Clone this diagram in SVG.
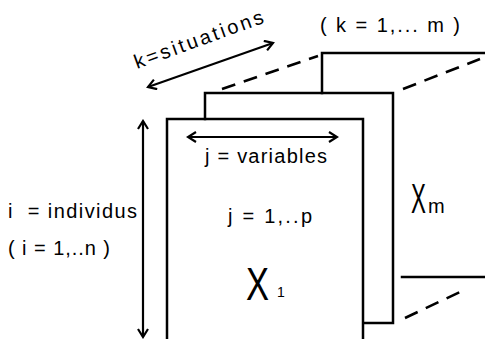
<svg xmlns="http://www.w3.org/2000/svg" width="485" height="339" viewBox="0 0 485 339">
<defs>
<style>
.ln{fill:none;stroke:#000;stroke-width:2.5;stroke-linecap:square}
.dash{fill:none;stroke:#000;stroke-width:2.6;stroke-dasharray:14 9}
.arr{fill:none;stroke:#000;stroke-width:2.2}
.t{font-family:"Liberation Sans",Arial,sans-serif;font-size:20px;fill:#000}
</style>
<marker id="ah" viewBox="0 0 12 12" refX="10" refY="6" markerWidth="12" markerHeight="12" markerUnits="userSpaceOnUse" orient="auto-start-reverse">
<path d="M2,1 L10,6 L2,11" fill="none" stroke="#000" stroke-width="2.2"/>
</marker>
</defs>
<rect width="485" height="339" fill="#fff"/>
<g id="matrix-m">
<polyline class="ln" points="322,93 322,53 485,53"/>
<line class="ln" x1="402" y1="277" x2="485" y2="277"/>
<text class="t" style="font-size:43px" transform="translate(411,213) scale(0.52,1)">X</text>
<text class="t" x="428" y="213">m</text>
</g>
<g id="matrix-2">
<polyline class="ln" points="205,119 205,93 393,93 393,323 364,323"/>
</g>
<g id="matrix-1">
<polyline class="ln" points="167,339 167,119 363,119 363,339"/>
<text class="t" x="228" y="223" textLength="84">j = 1,..p</text>
<text class="t" style="font-size:46px" transform="translate(246,300) scale(0.75,1)">X</text>
<text class="t" x="277" y="297" style="font-size:14px">1</text>
</g>
<g id="connectors">
<line class="dash" x1="222" y1="89" x2="318" y2="56"/>
<line class="dash" x1="403" y1="89" x2="480" y2="59"/>
<line class="dash" x1="405" y1="318" x2="462" y2="291"/>
<line class="arr" x1="148" y1="87" x2="273" y2="43" marker-start="url(#ah)" marker-end="url(#ah)"/>
<line class="arr" x1="143" y1="121" x2="143" y2="337" marker-start="url(#ah)" marker-end="url(#ah)"/>
<line class="arr" x1="188" y1="137" x2="337" y2="137" marker-start="url(#ah)" marker-end="url(#ah)"/>
</g>
<g id="labels">
<text class="t" x="0" y="0" transform="translate(137,69) rotate(-20)" textLength="136">k=situations</text>
<text class="t" x="320" y="32" textLength="140" xml:space="preserve">( k = 1,... m )</text>
<text class="t" x="205" y="163" textLength="122">j = variables</text>
<text class="t" x="8" y="218" textLength="129" xml:space="preserve">i  = individus</text>
<text class="t" x="8" y="255" textLength="102">( i = 1,..n )</text>
</g>
</svg>
